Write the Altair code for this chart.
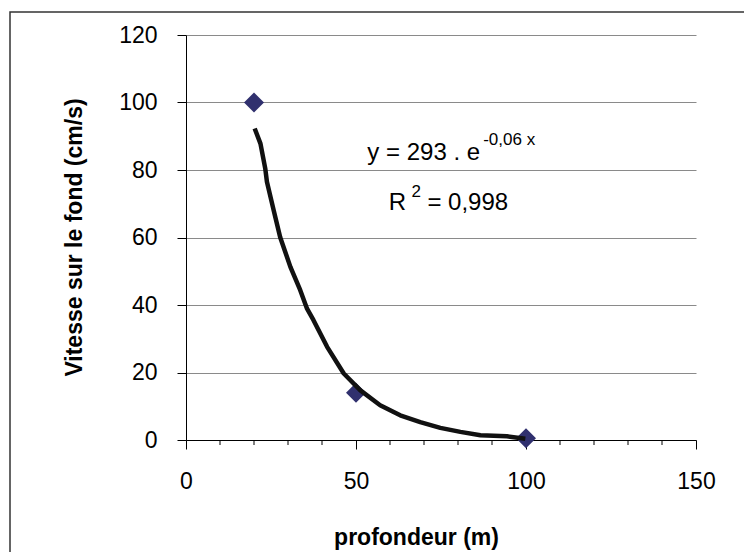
import altair as alt
import pandas as pd

# observed points
obs_depth = [20, 50, 100]
obs_speed = [100, 14, 0.5]

# exponential trend line
fit_depth = [20.2, 21.9, 23.3, 23.8, 25.8, 27.7, 30.7, 33.6, 35.6, 37.5, 41.5,
             46.4, 51.3, 57.1, 63.0, 68.9, 74.8, 80.7, 86.6, 94.4, 99.8]
fit_speed = [92.3, 87.8, 80.5, 76.5, 68.0, 60.1, 51.3, 44.4, 38.9, 35.5, 27.6,
             19.7, 14.7, 10.3, 7.3, 5.3, 3.6, 2.4, 1.4, 1.1, 0.4]

x_major = [0, 50, 100, 150]
x_minor = [10, 20, 30, 40, 60, 70, 80, 90, 110, 120, 130, 140]
y_ticks = [0, 20, 40, 60, 80, 100, 120]

x_title = "profondeur (m)"
y_title = "Vitesse sur le fond (cm/s)"

FONT = "Liberation Sans"

obs = pd.DataFrame({"depth": obs_depth, "speed": obs_speed})
fit = pd.DataFrame({"depth": fit_depth, "speed": fit_speed})
minor = pd.DataFrame({"depth": x_minor})

xscale = alt.Scale(domain=[0, 150], nice=False, zero=False)
yscale = alt.Scale(domain=[0, 120], nice=False)

x_axis = alt.Axis(
    values=x_major, title=x_title, grid=False, tickSize=9,
    labelFontSize=23, labelPadding=21, labelFlush=False, labelOverlap=False,
    titleFontSize=23, titleFontWeight="bold", titleX=230, titleY=97,
    titleBaseline="middle", titleAlign="center",
)
y_axis = alt.Axis(
    values=y_ticks, title=y_title, grid=True, tickSize=9,
    labelFontSize=23, labelPadding=20, labelFlush=False, labelOverlap=False,
    titleFontSize=23, titleFontWeight="bold", titleX=-112, titleY=202,
    titleAngle=-90, titleBaseline="middle", titleAlign="center",
)

x_enc = alt.X("depth:Q", scale=xscale, axis=x_axis)
y_enc = alt.Y("speed:Q", scale=yscale, axis=y_axis)

border = alt.Chart(alt.Data(values=[{"a": 1}])).mark_rect(
    fill="transparent", stroke="#333333", strokeWidth=1.5
).encode(x=alt.value(-176), x2=alt.value(900), y=alt.value(-23), y2=alt.value(900))

minor_ticks = alt.Chart(minor).mark_rule(color="black", strokeWidth=1).encode(
    x="depth:Q", y=alt.value(405), y2=alt.value(410)
)

points = alt.Chart(obs).mark_point(
    shape="diamond", size=400, filled=True, color="#30306e", opacity=1
).encode(x=x_enc, y=y_enc)

line = alt.Chart(fit).mark_line(
    color="#111111", strokeWidth=4.5, strokeJoin="round"
).encode(x="depth:Q", y="speed:Q", order="depth:Q")

ann_main = pd.DataFrame({"depth": [86.5, 64.7], "speed": [83.1, 68.1], "t": ["y = 293 . e", "R"]})
ann_sup = pd.DataFrame({"depth": [87.4, 66.3], "speed": [87.3, 71.9], "t": ["-0,06 x", "2"]})
ann_val = pd.DataFrame({"depth": [71.0], "speed": [68.1], "t": ["= 0,998"]})

t_main = alt.Chart(ann_main).mark_text(
    font=FONT, fontSize=24, align="right", baseline="alphabetic", color="black"
).encode(x="depth:Q", y="speed:Q", text="t:N")
t_sup = alt.Chart(ann_sup).mark_text(
    font=FONT, fontSize=17, align="left", baseline="alphabetic", color="black"
).encode(x="depth:Q", y="speed:Q", text="t:N")
t_val = alt.Chart(ann_val).mark_text(
    font=FONT, fontSize=24, align="left", baseline="alphabetic", color="black"
).encode(x="depth:Q", y="speed:Q", text="t:N")

chart = alt.layer(border, points, minor_ticks, line, t_main, t_sup, t_val).properties(
    width=510, height=405,
    autosize=alt.AutoSizeParams(type="none"),
    padding={"left": 178, "top": 27, "right": 48, "bottom": 112},
    background="white",
).configure_view(stroke=None).configure_axis(
    labelFont=FONT, titleFont=FONT, domainColor="black", tickColor="black",
    labelColor="black", titleColor="black", gridColor="#8a8a8a",
    domainWidth=1, tickWidth=1, gridWidth=1,
)

chart.save("out.html", embed_options={"renderer": "svg", "actions": False})
